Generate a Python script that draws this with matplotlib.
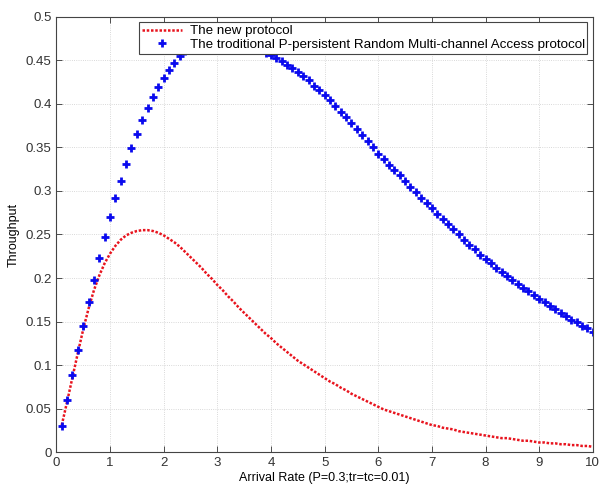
import matplotlib
matplotlib.use("Agg")
import matplotlib.pyplot as plt
import numpy as np

# arrival rate, 0.1 .. 10.0
rate = np.round(np.arange(1, 101) * 0.1, 1)

# the new protocol (red dotted curve)
new_thr = [
    0.031, 0.058, 0.086, 0.114, 0.141, 0.165, 0.186, 0.203, 0.217, 0.228,
    0.237, 0.244, 0.249, 0.252, 0.254, 0.255, 0.255, 0.254, 0.252, 0.249,
    0.245, 0.241, 0.236, 0.230, 0.224, 0.218, 0.212, 0.205, 0.199, 0.192,
    0.186, 0.179, 0.173, 0.166, 0.160, 0.154, 0.148, 0.142, 0.136, 0.131,
    0.125, 0.120, 0.115, 0.110, 0.105, 0.101, 0.097, 0.093, 0.089, 0.085,
    0.081, 0.078, 0.074, 0.071, 0.067, 0.064, 0.061, 0.058, 0.055, 0.052,
    0.049, 0.047, 0.045, 0.043, 0.041, 0.039, 0.037, 0.035, 0.033, 0.031,
    0.030, 0.028, 0.027, 0.026, 0.024, 0.023, 0.022, 0.021, 0.020, 0.019,
    0.018, 0.017, 0.016, 0.016, 0.015, 0.014, 0.013, 0.013, 0.012, 0.011,
    0.011, 0.010, 0.010, 0.009, 0.009, 0.008, 0.008, 0.007, 0.007, 0.006,
]

# traditional p-persistent random multi-channel access (blue +)
old_thr = [
    0.030, 0.060, 0.089, 0.117, 0.145, 0.172, 0.198, 0.223, 0.247, 0.270,
    0.292, 0.312, 0.331, 0.349, 0.366, 0.381, 0.395, 0.408, 0.419, 0.430,
    0.439, 0.447, 0.455, 0.461, 0.466, 0.470, 0.473, 0.475, 0.476, 0.476,
    0.476, 0.475, 0.474, 0.472, 0.470, 0.468, 0.465, 0.462, 0.459, 0.456,
    0.453, 0.449, 0.445, 0.441, 0.437, 0.432, 0.427, 0.421, 0.416, 0.410,
    0.404, 0.398, 0.391, 0.385, 0.378, 0.371, 0.364, 0.357, 0.350, 0.343,
    0.337, 0.330, 0.324, 0.318, 0.311, 0.305, 0.299, 0.292, 0.286, 0.280,
    0.274, 0.268, 0.262, 0.256, 0.250, 0.244, 0.238, 0.233, 0.227, 0.222,
    0.217, 0.212, 0.207, 0.202, 0.198, 0.193, 0.189, 0.185, 0.180, 0.176,
    0.172, 0.168, 0.164, 0.160, 0.156, 0.152, 0.149, 0.145, 0.142, 0.138,
]

labels = ["The new protocol",
          "The troditional P-persistent Random Multi-channel Access protocol"]

plt.rcParams['font.family'] = ['Liberation Sans', 'DejaVu Sans']

fig = plt.figure(figsize=(6.0, 4.84), dpi=100)
ax = fig.add_axes([0.094, 0.066, 0.894, 0.899])

ax.plot(rate, new_thr, linestyle=(0, (1.0, 0.7)), color='#e8141e',
        linewidth=1.8, label=labels[0])
ax.plot(rate, old_thr, linestyle='none', marker='+', color='#0a0aee',
        markersize=6, markeredgewidth=2.0, label=labels[1])

ax.set_xlim(0, 10)
ax.set_ylim(0, 0.5)
ax.set_xticks(range(0, 11))
ax.set_yticks(np.arange(0, 0.51, 0.05))
ax.set_yticklabels(['0', '0.05', '0.1', '0.15', '0.2', '0.25', '0.3',
                    '0.35', '0.4', '0.45', '0.5'])
ax.tick_params(direction='in', top=True, right=True, labelsize=9.5,
               length=4, width=0.6, colors='#333333')
ax.grid(True, linestyle=':', color='#cccccc', linewidth=0.6)
for s in ax.spines.values():
    s.set_color('#444444')
    s.set_linewidth(0.8)

ax.set_xlabel("Arrival Rate (P=0.3;tr=tc=0.01)", fontsize=9, labelpad=2)
ax.set_ylabel("Throughput", fontsize=9, labelpad=4)

leg = ax.legend(loc='upper right', fontsize=9.6, handlelength=3.0,
                fancybox=False, framealpha=1, borderaxespad=0.4,
                borderpad=0.2, labelspacing=0.1, handletextpad=0.6)
leg.get_frame().set_edgecolor('#444444')
leg.get_frame().set_linewidth(0.8)

fig.savefig("out.png", dpi=100)
